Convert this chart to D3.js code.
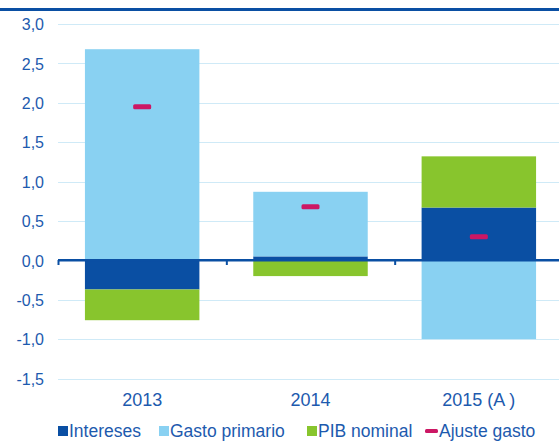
<!DOCTYPE html>
<meta charset="utf-8">
<style>
body { margin: 0; background: #fff; }
* { font-family: "Liberation Sans", Arial, sans-serif; }
.tick text { fill: #1d5aae; font-size: 16px; }
.lbl { fill: #1d5aae; font-size: 17.5px; }
</style>
<body>
<script src="https://d3js.org/d3.v7.min.js"></script>
<script>
var years = ["2013", "2014", "2015 (A )"];
var intereses = [-0.37, 0.05, 0.67];
var gastoPrimario = [2.68, 0.82, -1.0];
var pibNominal = [-0.39, -0.2, 0.65];
var ajusteGasto = [1.95, 0.68, 0.3];
var yTicks = [3.0, 2.5, 2.0, 1.5, 1.0, 0.5, 0.0, -0.5, -1.0, -1.5];

var keys = ["Intereses", "Gasto primario", "PIB nominal"];
var colors = {"Intereses": "#0a4fa3", "Gasto primario": "#89d1f2", "PIB nominal": "#88c52d", "Ajuste gasto": "#cc1764"};

var rows = years.map(function(y, i) {
  return {year: y, "Intereses": intereses[i], "Gasto primario": gastoPrimario[i], "PIB nominal": pibNominal[i], ajuste: ajusteGasto[i]};
});

var width = 559, height = 443;
var svg = d3.select("body").append("svg").attr("width", width).attr("height", height)
    .style("display", "block");

var x = d3.scaleBand().domain(years).range([58, 563]).paddingInner(0.32).paddingOuter(0.16);
var y = d3.scaleLinear().domain([-1.5, 3.0]).range([378.5, 24]);

var fmt = function(d) { return d3.format(".1f")(d).replace(".", ",").replace("−", "-"); };

// grid
svg.append("g").selectAll("line").data(yTicks).enter().append("line")
    .attr("x1", 58).attr("x2", width)
    .attr("y1", function(d) { return Math.round(y(d)) + 0.5; })
    .attr("y2", function(d) { return Math.round(y(d)) + 0.5; })
    .attr("stroke", "#cfeaf7").attr("stroke-width", 1);

var yAxis = svg.append("g").attr("transform", "translate(58,0)")
    .call(d3.axisLeft(y).tickValues(yTicks).tickFormat(fmt).tickSize(0).tickPadding(14));
yAxis.select(".domain").remove();
yAxis.selectAll("text").attr("dy", "0.36em");

var stack = d3.stack().keys(keys).offset(d3.stackOffsetDiverging);
var series = stack(rows);

svg.append("g").selectAll("g").data(series).enter().append("g")
    .attr("fill", function(d) { return colors[d.key]; })
  .selectAll("rect").data(function(d) { return d; }).enter().append("rect")
    .attr("x", function(d) { return x(d.data.year); })
    .attr("width", x.bandwidth())
    .attr("y", function(d) { return y(Math.max(d[0], d[1])); })
    .attr("height", function(d) { return Math.abs(y(d[0]) - y(d[1])); });

// zero axis with category ticks
var y0 = Math.round(y(0));
svg.append("rect").attr("x", 58).attr("y", y0 - 1).attr("width", width - 58).attr("height", 2.5).attr("fill", "#0a4fa3");
var step = x.step();
svg.append("g").selectAll("line").data([0, 1, 2]).enter().append("line")
    .attr("x1", function(i) { return 58 + i * step + 0.5; })
    .attr("x2", function(i) { return 58 + i * step + 0.5; })
    .attr("y1", y0).attr("y2", y0 + 5)
    .attr("stroke", "#0a4fa3").attr("stroke-width", 2);

// ajuste markers
svg.append("g").selectAll("rect").data(rows).enter().append("rect")
    .attr("x", function(d) { return x(d.year) + x.bandwidth() / 2 - 9; })
    .attr("y", function(d) { return y(d.ajuste) - 2.5; })
    .attr("width", 18).attr("height", 5).attr("rx", 1.5)
    .attr("fill", colors["Ajuste gasto"]);

// category labels
svg.append("g").selectAll("text").data(years).enter().append("text")
    .attr("class", "lbl")
    .style("font-size", "18px")
    .attr("x", function(d) { return x(d) + x.bandwidth() / 2; })
    .attr("y", 406)
    .attr("text-anchor", "middle")
    .text(function(d) { return d; });

// legend
var legend = [
  {name: "Intereses", x: 58, type: "sq"},
  {name: "Gasto primario", x: 159, type: "sq"},
  {name: "PIB nominal", x: 307, type: "sq"},
  {name: "Ajuste gasto", x: 425, type: "dash"}
];
var lg = svg.append("g").selectAll("g").data(legend).enter().append("g");
lg.append("rect")
    .attr("x", function(d) { return d.x; })
    .attr("y", function(d) { return d.type == "sq" ? 426 : 429; })
    .attr("width", function(d) { return d.type == "sq" ? 10 : 13; })
    .attr("height", function(d) { return d.type == "sq" ? 10 : 4; })
    .attr("rx", function(d) { return d.type == "sq" ? 0 : 1.5; })
    .attr("fill", function(d) { return colors[d.name]; });
lg.append("text").attr("class", "lbl")
    .attr("x", function(d) { return d.x + (d.type == "sq" ? 11 : 14); })
    .attr("y", 437)
    .text(function(d) { return d.name; });

// top rule left over from the cropped title
svg.append("rect").attr("x", 0).attr("y", 8).attr("width", width).attr("height", 3).attr("fill", "#0a4fa3");
</script>
